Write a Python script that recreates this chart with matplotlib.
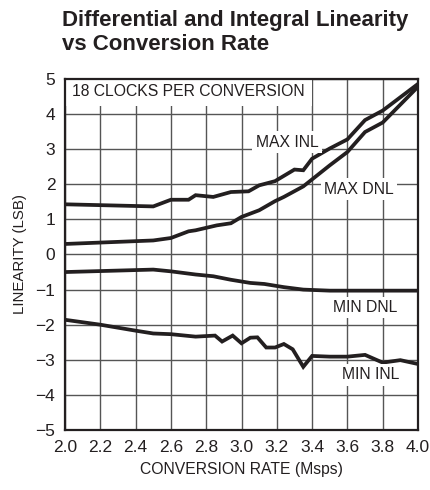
import matplotlib
matplotlib.use("Agg")
import matplotlib.pyplot as plt

plt.rcParams['font.family'] = ['Liberation Sans', 'DejaVu Sans']

# Data
max_inl_x = [2.0, 2.5, 2.6, 2.7, 2.74, 2.84, 2.94, 3.04, 3.1, 3.19, 3.3, 3.35, 3.4, 3.5, 3.6, 3.7, 3.8, 4.0]
max_inl_y = [1.43, 1.37, 1.56, 1.56, 1.69, 1.64, 1.78, 1.80, 1.97, 2.09, 2.42, 2.40, 2.73, 3.02, 3.28, 3.83, 4.10, 4.86]

max_dnl_x = [2.0, 2.5, 2.6, 2.7, 2.74, 2.86, 2.94, 3.0, 3.1, 3.19, 3.24, 3.35, 3.5, 3.6, 3.7, 3.8, 4.0]
max_dnl_y = [0.30, 0.40, 0.47, 0.66, 0.69, 0.83, 0.89, 1.07, 1.26, 1.52, 1.64, 1.94, 2.54, 2.92, 3.49, 3.76, 4.78]

min_dnl_x = [2.0, 2.5, 2.6, 2.74, 2.84, 2.94, 3.05, 3.13, 3.24, 3.35, 3.5, 4.0]
min_dnl_y = [-0.50, -0.43, -0.48, -0.57, -0.62, -0.72, -0.81, -0.84, -0.93, -1.0, -1.03, -1.03]

min_inl_x = [2.0, 2.2, 2.4, 2.5, 2.6, 2.74, 2.85, 2.89, 2.95, 3.0, 3.05, 3.09, 3.14, 3.19,
             3.24, 3.29, 3.35, 3.4, 3.5, 3.6, 3.7, 3.8, 3.9, 4.0]
min_inl_y = [-1.86, -2.0, -2.17, -2.25, -2.27, -2.34, -2.31, -2.48, -2.31, -2.53, -2.37, -2.36, -2.65, -2.65,
             -2.55, -2.70, -3.2, -2.89, -2.91, -2.91, -2.86, -3.08, -3.01, -3.12]

x_ticks = [2.0, 2.2, 2.4, 2.6, 2.8, 3.0, 3.2, 3.4, 3.6, 3.8, 4.0]
y_ticks = [5, 4, 3, 2, 1, 0, -1, -2, -3, -4, -5]
y_tick_labels = ['5', '4', '3', '2', '1', '0', '\u22121', '\u22122', '\u22123', '\u22124', '\u22125']

fig = plt.figure(figsize=(4.3, 4.9), dpi=100)
ax = fig.add_axes([65/430, 60/490, 353/430, 351/490])

lw = 2.7
for xs, ys in [(max_inl_x, max_inl_y), (max_dnl_x, max_dnl_y),
               (min_dnl_x, min_dnl_y), (min_inl_x, min_inl_y)]:
    ax.plot(xs, ys, color='#231f20', lw=lw, zorder=3, solid_joinstyle='miter')

ax.set_xlim(2.0, 4.0)
ax.set_ylim(-5, 5)
ax.set_xticks(x_ticks)
ax.set_xticklabels([f'{v:.1f}' for v in x_ticks])
ax.set_yticks(y_ticks)
ax.set_yticklabels(y_tick_labels)
ax.tick_params(length=0, labelsize=12.5, pad=7, colors='#231f20')
ax.grid(True, color='#555555', lw=1.0, zorder=1)
ax.set_axisbelow(True)
for s in ax.spines.values():
    s.set_linewidth(1.6)
    s.set_color('#231f20')
    s.set_zorder(6)

ax.set_xlabel('CONVERSION RATE (Msps)', fontsize=11.3, color='#231f20', labelpad=5)
ax.set_ylabel('LINEARITY (LSB)', fontsize=10.8, color='#231f20', labelpad=6)

fs = 11.3
box = dict(facecolor='white', edgecolor='none', pad=2.5)
ax.text(2.04, 4.64, '18 CLOCKS PER CONVERSION', fontsize=fs, va='center', ha='left',
        color='#231f20', zorder=4, bbox=dict(facecolor='white', edgecolor='none', pad=5))
ax.text(3.258, 3.2, 'MAX INL', fontsize=fs, va='center', ha='center', color='#231f20', zorder=4, bbox=box)
ax.text(3.665, 1.86, 'MAX DNL', fontsize=fs, va='center', ha='center', color='#231f20', zorder=4, bbox=box)
ax.text(3.70, -1.51, 'MIN DNL', fontsize=fs, va='center', ha='center', color='#231f20', zorder=4, bbox=box)
ax.text(3.73, -3.43, 'MIN INL', fontsize=fs, va='center', ha='center', color='#231f20', zorder=4, bbox=box)

fig.text(62/430, 1 - 10/490, 'Differential and Integral Linearity\nvs Conversion Rate',
         fontsize=16, fontweight='bold', ha='left', va='top', color='#231f20', linespacing=1.2)

fig.savefig('out.png', dpi=100)
